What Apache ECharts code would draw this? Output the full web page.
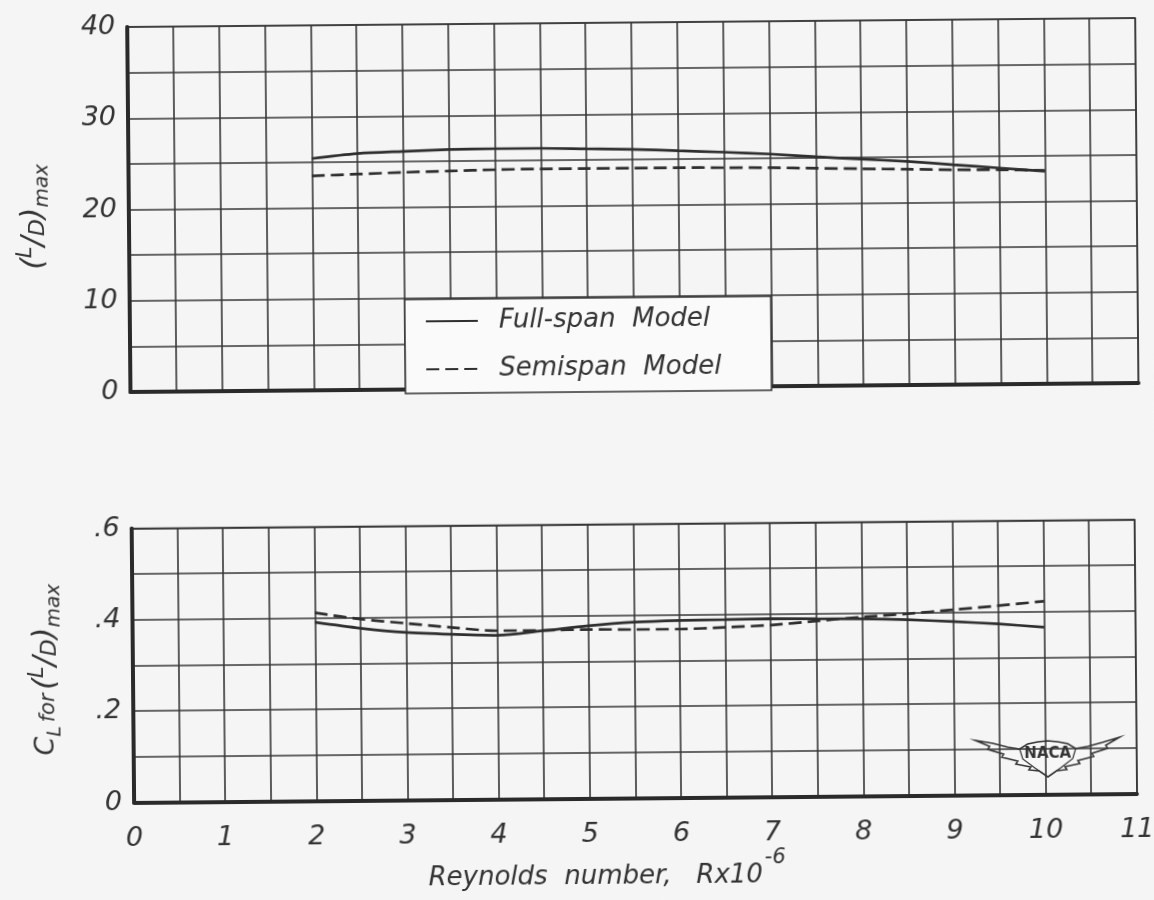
<!DOCTYPE html>
<html>
<head>
<meta charset="utf-8">
<title>(L/D)max and CL for (L/D)max vs Reynolds number</title>
<script src="https://cdn.jsdelivr.net/npm/echarts@6/dist/echarts.min.js"></script>
<style>
  html, body { margin: 0; padding: 0; background: #f5f5f5; }
  /* the plotted sheet sits slightly askew on the page */
  #chart { width: 1154px; height: 900px; transform: rotate(-0.51deg); }
</style>
</head>
<body>
<div id="chart"></div>
<script>
// Reynolds number, R x 10^-6
const reynolds = [2, 2.5, 3, 3.5, 4, 4.5, 5, 5.5, 6, 6.5, 7, 7.5, 8, 8.5, 9, 9.5, 10];

// (L/D)max
const ldMaxFull = [25.4, 25.9, 26.1, 26.25, 26.3, 26.3, 26.2, 26.1, 25.9, 25.7, 25.45, 25.1, 24.8, 24.5, 24.1, 23.7, 23.3];
const ldMaxSemi = [23.5, 23.65, 23.8, 23.9, 24.0, 24.05, 24.05, 24.05, 24.05, 24.0, 23.95, 23.85, 23.75, 23.65, 23.55, 23.5, 23.4];

// CL for (L/D)max
const clFull = [0.391, 0.377, 0.367, 0.362, 0.359, 0.368, 0.378, 0.385, 0.388, 0.389, 0.390, 0.389, 0.388, 0.385, 0.380, 0.374, 0.366];
const clSemi = [0.412, 0.397, 0.387, 0.377, 0.369, 0.369, 0.370, 0.369, 0.369, 0.372, 0.376, 0.384, 0.392, 0.398, 0.406, 0.414, 0.423];

// tick labels
const xTickLabels = ['0', '1', '2', '3', '4', '5', '6', '7', '8', '9', '10', '11'];
const ldTickLabels = ['0', '10', '20', '30', '40'];
const clTickLabels = ['0', '.2', '.4', '.6'];

const seriesNames = ['Full-span  Model', 'Semispan  Model'];

const INK = '#2e2e2e';
const FONT = 'DejaVu Sans';
const pairs = (ys) => reynolds.map((x, i) => [x, ys[i]]);

const solidStyle = { color: INK, width: 2.7, type: 'solid' };
const dashStyle = { color: INK, width: 2.7, type: [13, 6] };

const tickText = { fontFamily: FONT, fontStyle: 'italic', fontSize: 27, color: '#333' };
const gridLine = { show: true, lineStyle: { color: '#363636', width: 1.6 } };
const heavyAxis = { show: true, onZero: false, lineStyle: { color: '#2a2a2a', width: 4 } };

// rich-text pieces for the (L/D)max symbol, set on its side along the axes
const t = (size, extra) => Object.assign({ fontFamily: FONT, fontStyle: 'italic', fontSize: size, color: '#333' }, extra);
const ldRich = {
  p: t(30, { verticalAlign: 'middle', padding: [4, 0, 4, 0] }),
  sup: t(21, { verticalAlign: 'top' }),
  mid: t(22, { verticalAlign: 'middle', padding: [8, 0, 0, 0] }),
  sub: t(20, { verticalAlign: 'bottom' })
};

const chart = echarts.init(document.getElementById('chart'));

chart.setOption({
  backgroundColor: '#f5f5f5',
  animation: false,
  grid: [
    { left: 131, top: 23, width: 1008, height: 365, show: true, borderColor: '#333', borderWidth: 1.5, backgroundColor: 'transparent' },
    { left: 131, top: 524.5, width: 1008, height: 274, show: true, borderColor: '#333', borderWidth: 1.5, backgroundColor: 'transparent' }
  ],
  legend: {
    data: seriesNames,
    orient: 'vertical',
    left: 406,
    top: 298,
    itemWidth: 52,
    itemHeight: 14,
    itemGap: 18,
    padding: [7, 50, 9, 20],
    backgroundColor: '#fafafa',
    borderColor: '#333',
    borderWidth: 1.5,
    borderRadius: 0,
    selectedMode: false,
    itemStyle: { opacity: 0 },
    textStyle: { fontFamily: FONT, fontStyle: 'italic', fontSize: 26, color: '#333', lineHeight: 30, padding: [0, 0, 0, 16] }
  },
  xAxis: [
    {
      type: 'value', gridIndex: 0, min: 0, max: 11, interval: 0.5,
      axisLine: heavyAxis, axisTick: { show: false }, axisLabel: { show: false },
      splitLine: gridLine
    },
    {
      type: 'value', gridIndex: 1, min: 0, max: 11, interval: 0.5,
      axisLine: heavyAxis, axisTick: { show: false },
      axisLabel: Object.assign({}, tickText, {
        interval: 0, margin: 23,
        formatter: (v) => Number.isInteger(v) ? xTickLabels[v] : ''
      }),
      splitLine: gridLine,
      name: '{m|Reynolds  number,   Rx10}{sup|-6}',
      nameLocation: 'middle',
      nameGap: 38,
      nameTextStyle: {
        fontFamily: FONT, fontStyle: 'italic', fontSize: 26, color: '#333',
        padding: [0, 58, 0, 0],
        rich: {
          m: t(26, { verticalAlign: 'bottom' }),
          sup: t(21, { verticalAlign: 'top', padding: [0, 0, 20, 2] })
        }
      }
    }
  ],
  yAxis: [
    {
      type: 'value', gridIndex: 0, min: 0, max: 40, interval: 5,
      axisLine: heavyAxis, axisTick: { show: false },
      axisLabel: Object.assign({}, tickText, {
        interval: 0, margin: 12,
        formatter: (v) => v % 10 === 0 ? ldTickLabels[v / 10] : ''
      }),
      splitLine: gridLine,
      name: '{p|(}{sup|L}{p|/}{mid|D}{p|)}{sub|max}',
      nameLocation: 'middle',
      nameRotate: 90,
      nameGap: 76,
      nameTextStyle: {
        fontFamily: FONT, fontStyle: 'italic', color: '#333', padding: [0, 13, 0, 0],
        rich: ldRich
      }
    },
    {
      type: 'value', gridIndex: 1, min: 0, max: 0.6, interval: 0.1,
      axisLine: heavyAxis, axisTick: { show: false },
      axisLabel: Object.assign({}, tickText, {
        interval: 0, margin: 12,
        formatter: (v) => {
          const k = Math.round(v * 10);
          return k % 2 === 0 ? clTickLabels[k / 2] : '';
        }
      }),
      splitLine: gridLine,
      name: '{c|C}{csub|L} {f|for} {p|(}{sup|L}{p|/}{mid|D}{p|)}{sub|max}',
      nameLocation: 'middle',
      nameRotate: 90,
      nameGap: 68,
      nameTextStyle: {
        fontFamily: FONT, fontStyle: 'italic', color: '#333', padding: [0, 7, 0, 0],
        rich: Object.assign({
          c: t(27, { verticalAlign: 'middle' }),
          csub: t(19, { verticalAlign: 'bottom' }),
          f: t(21, { verticalAlign: 'middle', padding: [6, 0, 0, 0] })
        }, ldRich)
      }
    }
  ],
  series: [
    { name: seriesNames[0], type: 'line', xAxisIndex: 0, yAxisIndex: 0, data: pairs(ldMaxFull), smooth: 0.3, symbol: 'none', color: INK, lineStyle: solidStyle, z: 3 },
    { name: seriesNames[1], type: 'line', xAxisIndex: 0, yAxisIndex: 0, data: pairs(ldMaxSemi), smooth: 0.3, symbol: 'none', color: INK, lineStyle: dashStyle, z: 3 },
    { name: seriesNames[0], type: 'line', xAxisIndex: 1, yAxisIndex: 1, data: pairs(clFull), smooth: 0.3, symbol: 'none', color: INK, lineStyle: solidStyle, z: 3 },
    { name: seriesNames[1], type: 'line', xAxisIndex: 1, yAxisIndex: 1, data: pairs(clSemi), smooth: 0.3, symbol: 'none', color: INK, lineStyle: dashStyle, z: 3 }
  ],
  graphic: [
    {
      // NACA wings emblem
      type: 'group',
      x: 1045, y: 747,
      z: 10,
      children: [
        {
          type: 'polygon',
          shape: {
            points: [
              [-72, -3], [-55, 0], [-40, 4], [-28, 6], [-20, 1], [-10, -1], [0, -2], [10, -1], [20, 1], [28, 6], [40, 4], [55, 0], [72, -5],
              [58, 3], [60, 6], [44, 11], [46, 14], [30, 18], [32, 21], [17, 24], [19, 27], [9, 28], [0, 34],
              [-9, 28], [-19, 27], [-17, 24], [-32, 21], [-30, 18], [-46, 14], [-44, 11], [-60, 6], [-58, 3]
            ]
          },
          style: { fill: '#f7f7f7', stroke: '#333', lineWidth: 1.5 }
        },
        { type: 'polyline', shape: { points: [[-28, 6], [-25, 16], [-13, 25], [0, 34]] }, style: { fill: null, stroke: '#333', lineWidth: 1.2 } },
        { type: 'polyline', shape: { points: [[28, 6], [25, 16], [13, 25], [0, 34]] }, style: { fill: null, stroke: '#333', lineWidth: 1.2 } },
        {
          type: 'text',
          x: 0, y: 11,
          style: { text: 'NACA', fontFamily: FONT, fontWeight: 'bold', fontSize: 15, fill: '#333', align: 'center', verticalAlign: 'middle' }
        }
      ]
    }
  ]
});
</script>
</body>
</html>
